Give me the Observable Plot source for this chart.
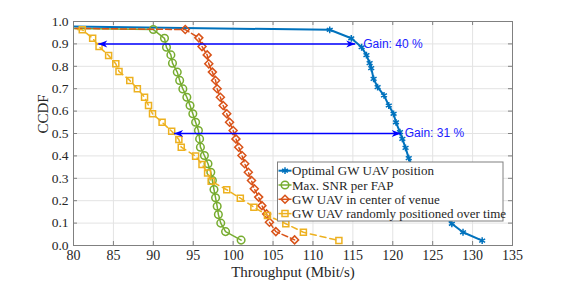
<!DOCTYPE html>
<html>
<head>
<meta charset="utf-8">
<script src="https://cdn.jsdelivr.net/npm/d3@7"></script>
<script src="https://cdn.jsdelivr.net/npm/@observablehq/plot@0.6"></script>
<style>
  html, body { margin: 0; padding: 0; background: #fff; }
  #chart { width: 565px; height: 283px; }
</style>
</head>
<body>
<div id="chart"></div>
<script>
// ---- data ----
const xTicks = [80, 85, 90, 95, 100, 105, 110, 115, 120, 125, 130, 135];
const yTicks = [0, 0.1, 0.2, 0.3, 0.4, 0.5, 0.6, 0.7, 0.8, 0.9, 1];

const seriesNames = [
  "Optimal GW UAV position",
  "Max. SNR per FAP",
  "GW UAV in center of venue",
  "GW UAV randomly positioned over time"
];

const optX = [78, 112.1, 114.8, 116.1, 116.7, 117.1, 117.3, 117.6, 118.1, 118.9, 119.5, 120.1, 120.4, 120.9, 121.2, 121.6, 122.0, 122.6, 123.3, 124.2, 125.3, 126.4, 127.4, 128.8, 131.2];
const optY = [0.978, 0.963, 0.925, 0.885, 0.85, 0.814, 0.792, 0.744, 0.707, 0.67, 0.625, 0.588, 0.55, 0.506, 0.476, 0.436, 0.39, 0.34, 0.29, 0.24, 0.19, 0.14, 0.097, 0.059, 0.022];

const snrX = [78, 90.0, 91.4, 91.65, 92.2, 92.4, 93.0, 93.3, 93.7, 94.2, 94.6, 94.95, 95.3, 95.65, 95.8, 95.9, 96.4, 96.85, 97.2, 97.4, 97.6, 97.8, 98.0, 98.15, 98.45, 99.05, 101.0];
const snrY = [0.97, 0.964, 0.925, 0.885, 0.851, 0.814, 0.774, 0.737, 0.699, 0.662, 0.625, 0.588, 0.55, 0.513, 0.476, 0.439, 0.402, 0.365, 0.327, 0.29, 0.25, 0.213, 0.175, 0.138, 0.1, 0.062, 0.024];

const centerX = [78, 94.0, 95.7, 96.1, 96.75, 96.95, 97.4, 97.8, 98.0, 98.4, 98.75, 99.2, 99.55, 100.0, 100.35, 100.7, 101.1, 101.45, 101.9, 102.3, 102.65, 103.2, 103.6, 104.2, 104.55, 105.35, 107.7];
const centerY = [0.97, 0.964, 0.927, 0.888, 0.851, 0.811, 0.774, 0.737, 0.7, 0.662, 0.625, 0.588, 0.55, 0.513, 0.476, 0.439, 0.402, 0.365, 0.327, 0.29, 0.253, 0.216, 0.178, 0.141, 0.104, 0.062, 0.025];

const randX = [78, 81.1, 82.4, 83.2, 84.4, 85.3, 85.7, 87.05, 88.0, 88.9, 89.4, 89.9, 91.1, 92.3, 93.2, 93.5, 95.3, 96.1, 96.8, 97.25, 99.2, 100.9, 102.6, 104.3, 106.6, 108.8, 113.25];
const randY = [0.97, 0.963, 0.925, 0.888, 0.848, 0.811, 0.777, 0.737, 0.7, 0.662, 0.625, 0.588, 0.55, 0.51, 0.473, 0.439, 0.399, 0.362, 0.324, 0.287, 0.249, 0.211, 0.171, 0.134, 0.097, 0.059, 0.022];

const gainY = [0.9, 0.5];
const gainFrom = [83.1, 92.6];
const gainTo = [115.3, 121.0];
const gainLabelX = [116.3, 121.5];
const gainLabels = ["Gain: 40 %", "Gain: 31 %"];

// ---- styles ----
const colors = ["#0072BD", "#77AC30", "#D95319", "#EDB120"];
const symbols = ["asterisk", "circle", "diamond2", "square"];
const radii = [3.2, 3.8, 3.6, 3.4];
const dashes = [null, null, "6,3", "6,4"];
const widths = [2, 1.5, 1.5, 1.5];

const xs = [optX, snrX, centerX, randX];
const ys = [optY, snrY, centerY, randY];
const series = xs.map((xa, s) => xa.map((x, i) => ({x, y: ys[s][i], s})));

const arrows = gainY.map((y, i) => ({y, x1: gainFrom[i], x2: gainTo[i], lx: gainLabelX[i], label: gainLabels[i]}));

function headMarker(color, context) {
  const doc = (context && context.document) || document;
  const ns = "http://www.w3.org/2000/svg";
  const m = doc.createElementNS(ns, "marker");
  m.setAttribute("viewBox", "-10 -5 10 10");
  m.setAttribute("markerUnits", "userSpaceOnUse");
  m.setAttribute("markerWidth", "10");
  m.setAttribute("markerHeight", "10");
  m.setAttribute("refX", "0");
  m.setAttribute("refY", "0");
  m.setAttribute("orient", "auto-start-reverse");
  const p = doc.createElementNS(ns, "path");
  p.setAttribute("d", "M0,0L-9,-3.5L-6.5,0L-9,3.5Z");
  p.setAttribute("fill", color);
  p.setAttribute("stroke", "none");
  m.appendChild(p);
  return m;
}

const tickLenY = 4 / 224;
const tickLenX = 4 / 7.98;

const marks = [
  Plot.gridX(xTicks, {stroke: "#e3e3e3", strokeOpacity: 1}),
  Plot.gridY(yTicks, {stroke: "#e3e3e3", strokeOpacity: 1}),
  Plot.ruleX(xTicks, {x: d => d, y1: 0, y2: tickLenY, stroke: "#808080"}),
  Plot.ruleX(xTicks, {x: d => d, y1: 1 - tickLenY, y2: 1, stroke: "#808080"}),
  Plot.ruleY(yTicks, {y: d => d, x1: 80, x2: 80 + tickLenX, stroke: "#808080"}),
  Plot.ruleY(yTicks, {y: d => d, x1: 135 - tickLenX, x2: 135, stroke: "#808080"}),
];
series.forEach((data, s) => {
  marks.push(Plot.line(data, {x: "x", y: "y", stroke: colors[s], strokeWidth: widths[s], strokeDasharray: dashes[s], clip: true}));
  marks.push(Plot.dot(data, {x: "x", y: "y", symbol: () => symbols[s], r: radii[s], stroke: colors[s], strokeWidth: 1.5, fill: "none", clip: true}));
});
marks.push(
  Plot.link(arrows, {x1: "x1", x2: "x2", y1: "y", y2: "y", stroke: "#0000FF", strokeWidth: 1.5, markerStart: headMarker, markerEnd: headMarker}),
  Plot.text(arrows, {x: "lx", y: "y", text: "label", textAnchor: "start", fill: "#2020FF", fontSize: 12, fontFamily: "Liberation Sans, Arial, sans-serif"}),
  Plot.frame({stroke: "#808080"}),
  Plot.axisX(xTicks, {tickSize: 0, tickPadding: 5, fontSize: 14, label: null, color: "#262626"}),
  Plot.axisY(yTicks, {tickSize: 0, tickPadding: 5, fontSize: 13.5, label: null, color: "#262626"}),
  Plot.text(["Throughput (Mbit/s)"], {frameAnchor: "bottom", dy: 31, text: d => d, fontSize: 15, fill: "#262626"}),
  Plot.text(["CCDF"], {frameAnchor: "left", dx: -30, rotate: -90, text: d => d, fontSize: 15, fill: "#262626"})
);

const svg = Plot.plot({
  width: 565,
  height: 283,
  marginLeft: 73,
  marginRight: 53,
  marginTop: 21,
  marginBottom: 38,
  x: {domain: [80, 135]},
  y: {domain: [0, 1]},
  style: {fontFamily: "Liberation Serif, Times New Roman, serif", fontSize: "13px", background: "#fff", color: "#262626"},
  marks
});

// ---- legend (inside the axes) ----
const g = d3.select(svg).append("g")
  .attr("font-family", "Liberation Serif, Times New Roman, serif")
  .attr("font-size", 13)
  .attr("text-anchor", "start");
const lx = 277.5, ly = 162, lw = 225.5, lh = 59;
g.append("rect").attr("x", lx).attr("y", ly).attr("width", lw).attr("height", lh).attr("fill", "#fff").attr("stroke", "#808080").attr("stroke-width", 1);
const d3sym = {asterisk: d3.symbolAsterisk, circle: d3.symbolCircle, diamond2: d3.symbolDiamond2, square: d3.symbolSquare};
seriesNames.forEach((name, s) => {
  const cy = ly + 8.7 + s * 14.3;
  g.append("line").attr("x1", lx + 1).attr("x2", lx + 14).attr("y1", cy).attr("y2", cy)
    .attr("stroke", colors[s]).attr("stroke-width", widths[s]);
  g.append("path").attr("transform", `translate(${lx + 7.5},${cy})`)
    .attr("d", d3.symbol(d3sym[symbols[s]], Math.PI * radii[s] * radii[s])())
    .attr("fill", "none").attr("stroke", colors[s]).attr("stroke-width", 1.5);
  g.append("text").attr("x", lx + 14.5).attr("y", cy).attr("dy", "0.35em")
    .attr("text-anchor", "start").attr("fill", "#262626").text(name);
});

document.getElementById("chart").appendChild(svg);
</script>
</body>
</html>
